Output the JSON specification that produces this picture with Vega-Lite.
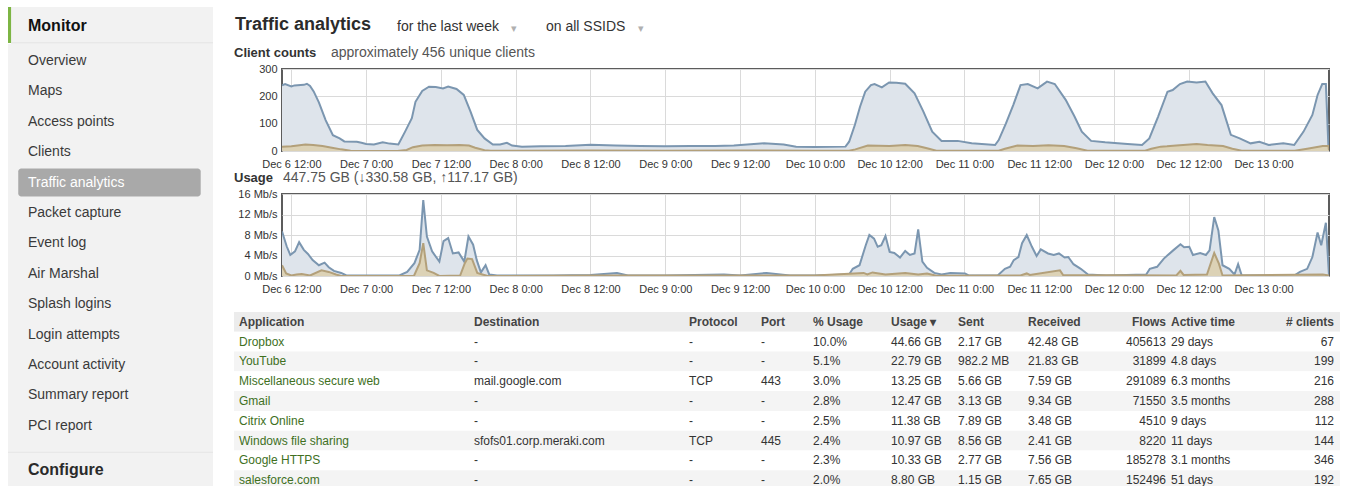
{
  "$schema": "https://vega.github.io/schema/vega-lite/v6.json",
  "background": "white",
  "padding": {"left": 7, "top": 7, "right": 0, "bottom": 0},
  "config": {
    "font": "Liberation Sans",
    "view": {"stroke": null},
    "axis": {"labelFont": "Liberation Sans", "labelFontSize": 11, "labelColor": "#333333", "domain": false, "ticks": false, "gridColor": "#dadada", "labelFlush": false, "labelOverlap": false, "title": null}
  },
  "datasets": {
    "menu": [
      {"item": "Overview"}, {"item": "Maps"}, {"item": "Access points"}, {"item": "Clients"}, {"item": "Traffic analytics"}, {"item": "Packet capture"}, {"item": "Event log"}, {"item": "Air Marshal"}, {"item": "Splash logins"}, {"item": "Login attempts"}, {"item": "Account activity"}, {"item": "Summary report"}, {"item": "PCI report"}
    ],
    "cAll": [
      {"t": "2012-12-06T10:30", "v": 240}, {"t": "2012-12-06T11:00", "v": 245}, {"t": "2012-12-06T12:00", "v": 236}, {"t": "2012-12-06T12:30", "v": 240},
      {"t": "2012-12-06T14:00", "v": 242}, {"t": "2012-12-06T14:30", "v": 246}, {"t": "2012-12-06T15:00", "v": 238}, {"t": "2012-12-06T15:35", "v": 218},
      {"t": "2012-12-06T16:25", "v": 178}, {"t": "2012-12-06T17:30", "v": 113}, {"t": "2012-12-06T18:40", "v": 58}, {"t": "2012-12-06T19:45", "v": 46},
      {"t": "2012-12-06T20:30", "v": 35}, {"t": "2012-12-06T22:30", "v": 34}, {"t": "2012-12-06T23:15", "v": 30}, {"t": "2012-12-07T00:00", "v": 26},
      {"t": "2012-12-07T01:15", "v": 24}, {"t": "2012-12-07T02:40", "v": 32}, {"t": "2012-12-07T03:45", "v": 27}, {"t": "2012-12-07T05:10", "v": 24},
      {"t": "2012-12-07T06:15", "v": 71}, {"t": "2012-12-07T07:20", "v": 120}, {"t": "2012-12-07T07:55", "v": 180}, {"t": "2012-12-07T09:00", "v": 220},
      {"t": "2012-12-07T10:05", "v": 235}, {"t": "2012-12-07T11:10", "v": 234}, {"t": "2012-12-07T12:20", "v": 229}, {"t": "2012-12-07T13:10", "v": 236},
      {"t": "2012-12-07T14:30", "v": 227}, {"t": "2012-12-07T15:40", "v": 205}, {"t": "2012-12-07T16:45", "v": 144}, {"t": "2012-12-07T17:50", "v": 77},
      {"t": "2012-12-07T19:00", "v": 46}, {"t": "2012-12-07T20:20", "v": 24}, {"t": "2012-12-07T21:30", "v": 24}, {"t": "2012-12-07T22:35", "v": 30},
      {"t": "2012-12-07T23:25", "v": 20}, {"t": "2012-12-08T01:00", "v": 16}, {"t": "2012-12-08T04:00", "v": 17}, {"t": "2012-12-08T08:00", "v": 18},
      {"t": "2012-12-08T12:00", "v": 23}, {"t": "2012-12-08T16:00", "v": 20}, {"t": "2012-12-08T20:00", "v": 18}, {"t": "2012-12-09T00:00", "v": 17},
      {"t": "2012-12-09T04:00", "v": 18}, {"t": "2012-12-09T08:00", "v": 18}, {"t": "2012-12-09T11:00", "v": 20}, {"t": "2012-12-09T15:50", "v": 28},
      {"t": "2012-12-09T19:00", "v": 24}, {"t": "2012-12-09T21:00", "v": 16}, {"t": "2012-12-10T00:00", "v": 15}, {"t": "2012-12-10T04:55", "v": 16},
      {"t": "2012-12-10T05:30", "v": 34}, {"t": "2012-12-10T06:25", "v": 95}, {"t": "2012-12-10T07:15", "v": 162}, {"t": "2012-12-10T08:05", "v": 217},
      {"t": "2012-12-10T09:00", "v": 241}, {"t": "2012-12-10T09:35", "v": 245}, {"t": "2012-12-10T10:45", "v": 233}, {"t": "2012-12-10T11:55", "v": 251},
      {"t": "2012-12-10T13:05", "v": 250}, {"t": "2012-12-10T14:30", "v": 246}, {"t": "2012-12-10T16:00", "v": 211}, {"t": "2012-12-10T17:25", "v": 144},
      {"t": "2012-12-10T18:50", "v": 71}, {"t": "2012-12-10T20:20", "v": 37}, {"t": "2012-12-10T22:55", "v": 37}, {"t": "2012-12-11T01:10", "v": 28},
      {"t": "2012-12-11T04:55", "v": 22}, {"t": "2012-12-11T05:30", "v": 40}, {"t": "2012-12-11T06:40", "v": 101}, {"t": "2012-12-11T07:50", "v": 168},
      {"t": "2012-12-11T09:00", "v": 241}, {"t": "2012-12-11T10:10", "v": 245}, {"t": "2012-12-11T11:45", "v": 229}, {"t": "2012-12-11T13:15", "v": 254},
      {"t": "2012-12-11T14:30", "v": 245}, {"t": "2012-12-11T16:15", "v": 187}, {"t": "2012-12-11T17:40", "v": 126}, {"t": "2012-12-11T18:50", "v": 71},
      {"t": "2012-12-11T20:20", "v": 37}, {"t": "2012-12-11T22:35", "v": 32}, {"t": "2012-12-12T02:10", "v": 26}, {"t": "2012-12-12T04:30", "v": 22},
      {"t": "2012-12-12T05:40", "v": 46}, {"t": "2012-12-12T07:05", "v": 126}, {"t": "2012-12-12T08:35", "v": 217}, {"t": "2012-12-12T09:25", "v": 223},
      {"t": "2012-12-12T10:35", "v": 245}, {"t": "2012-12-12T11:45", "v": 254}, {"t": "2012-12-12T13:15", "v": 251}, {"t": "2012-12-12T14:40", "v": 254},
      {"t": "2012-12-12T15:50", "v": 211}, {"t": "2012-12-12T17:15", "v": 168}, {"t": "2012-12-12T18:45", "v": 59}, {"t": "2012-12-12T20:10", "v": 46},
      {"t": "2012-12-12T21:55", "v": 28}, {"t": "2012-12-12T23:20", "v": 34}, {"t": "2012-12-13T00:50", "v": 22}, {"t": "2012-12-13T03:10", "v": 28},
      {"t": "2012-12-13T04:55", "v": 22}, {"t": "2012-12-13T06:25", "v": 71}, {"t": "2012-12-13T07:50", "v": 132}, {"t": "2012-12-13T08:40", "v": 205},
      {"t": "2012-12-13T09:25", "v": 245}, {"t": "2012-12-13T10:00", "v": 245}, {"t": "2012-12-13T10:25", "v": 10}, {"t": "2012-12-13T10:30", "v": 5}
    ],
    "cOther": [
      {"t": "2012-12-06T10:30", "v": 16}, {"t": "2012-12-06T12:00", "v": 17}, {"t": "2012-12-06T13:00", "v": 20}, {"t": "2012-12-06T14:15", "v": 24},
      {"t": "2012-12-06T15:30", "v": 22}, {"t": "2012-12-06T17:00", "v": 18}, {"t": "2012-12-06T18:30", "v": 12}, {"t": "2012-12-06T20:00", "v": 6},
      {"t": "2012-12-06T21:30", "v": 1}, {"t": "2012-12-07T00:00", "v": 0}, {"t": "2012-12-07T05:00", "v": 0}, {"t": "2012-12-07T06:30", "v": 4},
      {"t": "2012-12-07T07:30", "v": 14}, {"t": "2012-12-07T09:00", "v": 20}, {"t": "2012-12-07T11:00", "v": 22}, {"t": "2012-12-07T13:00", "v": 21},
      {"t": "2012-12-07T15:00", "v": 22}, {"t": "2012-12-07T16:30", "v": 20}, {"t": "2012-12-07T17:30", "v": 12}, {"t": "2012-12-07T19:00", "v": 3},
      {"t": "2012-12-07T20:00", "v": 1}, {"t": "2012-12-08T00:00", "v": 1}, {"t": "2012-12-08T12:00", "v": 2}, {"t": "2012-12-09T00:00", "v": 1},
      {"t": "2012-12-09T12:00", "v": 2}, {"t": "2012-12-10T00:00", "v": 1}, {"t": "2012-12-10T05:30", "v": 1}, {"t": "2012-12-10T06:30", "v": 6},
      {"t": "2012-12-10T08:30", "v": 20}, {"t": "2012-12-10T12:00", "v": 18}, {"t": "2012-12-10T14:30", "v": 22}, {"t": "2012-12-10T16:30", "v": 18},
      {"t": "2012-12-10T18:00", "v": 10}, {"t": "2012-12-10T19:30", "v": 1}, {"t": "2012-12-11T05:30", "v": 1}, {"t": "2012-12-11T06:30", "v": 8},
      {"t": "2012-12-11T08:30", "v": 20}, {"t": "2012-12-11T11:00", "v": 18}, {"t": "2012-12-11T13:30", "v": 21}, {"t": "2012-12-11T16:00", "v": 18},
      {"t": "2012-12-11T18:00", "v": 10}, {"t": "2012-12-11T19:45", "v": 1}, {"t": "2012-12-12T05:00", "v": 1}, {"t": "2012-12-12T06:00", "v": 8},
      {"t": "2012-12-12T07:30", "v": 16}, {"t": "2012-12-12T08:30", "v": 17}, {"t": "2012-12-12T10:00", "v": 20}, {"t": "2012-12-12T13:15", "v": 26},
      {"t": "2012-12-12T15:00", "v": 22}, {"t": "2012-12-12T17:30", "v": 18}, {"t": "2012-12-12T19:00", "v": 8}, {"t": "2012-12-12T20:30", "v": 1},
      {"t": "2012-12-13T05:00", "v": 1}, {"t": "2012-12-13T07:00", "v": 8}, {"t": "2012-12-13T09:30", "v": 18}, {"t": "2012-12-13T10:25", "v": 18},
      {"t": "2012-12-13T10:30", "v": 3}
    ],
    "uAll": [
      {"t": "2012-12-06T10:30", "v": 8.7}, {"t": "2012-12-06T10:50", "v": 7.4}, {"t": "2012-12-06T11:15", "v": 5.8}, {"t": "2012-12-06T11:50", "v": 4.1},
      {"t": "2012-12-06T12:35", "v": 4.8}, {"t": "2012-12-06T13:15", "v": 6.6}, {"t": "2012-12-06T14:00", "v": 5.1}, {"t": "2012-12-06T14:40", "v": 4.3},
      {"t": "2012-12-06T15:25", "v": 3.1}, {"t": "2012-12-06T16:25", "v": 2.1}, {"t": "2012-12-06T17:20", "v": 2.6}, {"t": "2012-12-06T18:00", "v": 1.7},
      {"t": "2012-12-06T18:50", "v": 1.0}, {"t": "2012-12-06T20:00", "v": 0.6}, {"t": "2012-12-06T20:50", "v": 0.1}, {"t": "2012-12-07T05:20", "v": 0.1},
      {"t": "2012-12-07T06:35", "v": 0.8}, {"t": "2012-12-07T07:45", "v": 2.5}, {"t": "2012-12-07T08:35", "v": 5.1}, {"t": "2012-12-07T09:10", "v": 14.8},
      {"t": "2012-12-07T09:45", "v": 7.7}, {"t": "2012-12-07T10:35", "v": 4.8}, {"t": "2012-12-07T11:45", "v": 2.8}, {"t": "2012-12-07T12:25", "v": 6.8},
      {"t": "2012-12-07T13:10", "v": 7.4}, {"t": "2012-12-07T13:55", "v": 4.4}, {"t": "2012-12-07T14:50", "v": 4.6}, {"t": "2012-12-07T15:45", "v": 2.8},
      {"t": "2012-12-07T16:25", "v": 7.7}, {"t": "2012-12-07T17:10", "v": 6.1}, {"t": "2012-12-07T17:45", "v": 3.1}, {"t": "2012-12-07T18:25", "v": 0.7},
      {"t": "2012-12-07T19:10", "v": 2.1}, {"t": "2012-12-07T19:45", "v": 0.3}, {"t": "2012-12-07T21:00", "v": 0.1}, {"t": "2012-12-08T06:00", "v": 0.1},
      {"t": "2012-12-08T12:00", "v": 0.2}, {"t": "2012-12-08T16:15", "v": 0.6}, {"t": "2012-12-08T18:00", "v": 0.1}, {"t": "2012-12-09T00:00", "v": 0.1},
      {"t": "2012-12-09T09:25", "v": 0.3}, {"t": "2012-12-09T12:00", "v": 0.1}, {"t": "2012-12-09T16:15", "v": 0.6}, {"t": "2012-12-09T20:00", "v": 0.1},
      {"t": "2012-12-10T00:00", "v": 0.1}, {"t": "2012-12-10T05:30", "v": 0.3}, {"t": "2012-12-10T06:05", "v": 1.4}, {"t": "2012-12-10T07:10", "v": 2.1},
      {"t": "2012-12-10T08:10", "v": 6.0}, {"t": "2012-12-10T08:45", "v": 8.0}, {"t": "2012-12-10T09:30", "v": 7.3}, {"t": "2012-12-10T10:05", "v": 5.7},
      {"t": "2012-12-10T10:40", "v": 6.0}, {"t": "2012-12-10T11:20", "v": 7.8}, {"t": "2012-12-10T12:00", "v": 4.7}, {"t": "2012-12-10T12:45", "v": 4.5},
      {"t": "2012-12-10T13:40", "v": 3.6}, {"t": "2012-12-10T14:30", "v": 4.9}, {"t": "2012-12-10T15:15", "v": 4.1}, {"t": "2012-12-10T16:00", "v": 4.4},
      {"t": "2012-12-10T16:35", "v": 9.1}, {"t": "2012-12-10T17:15", "v": 2.8}, {"t": "2012-12-10T18:00", "v": 1.6}, {"t": "2012-12-10T19:10", "v": 0.6},
      {"t": "2012-12-10T20:20", "v": 0.3}, {"t": "2012-12-10T21:45", "v": 0.6}, {"t": "2012-12-11T00:05", "v": 0.5}, {"t": "2012-12-11T00:40", "v": 0.1},
      {"t": "2012-12-11T05:20", "v": 0.1}, {"t": "2012-12-11T06:30", "v": 1.4}, {"t": "2012-12-11T07:20", "v": 1.8}, {"t": "2012-12-11T07:55", "v": 3.1},
      {"t": "2012-12-11T08:40", "v": 3.7}, {"t": "2012-12-11T09:15", "v": 6.4}, {"t": "2012-12-11T10:00", "v": 8.0}, {"t": "2012-12-11T10:50", "v": 5.7},
      {"t": "2012-12-11T11:35", "v": 3.9}, {"t": "2012-12-11T12:15", "v": 5.2}, {"t": "2012-12-11T13:25", "v": 4.4}, {"t": "2012-12-11T14:20", "v": 4.1},
      {"t": "2012-12-11T15:10", "v": 4.4}, {"t": "2012-12-11T16:05", "v": 3.6}, {"t": "2012-12-11T16:40", "v": 3.7}, {"t": "2012-12-11T17:30", "v": 2.3},
      {"t": "2012-12-11T18:40", "v": 1.4}, {"t": "2012-12-11T19:50", "v": 0.3}, {"t": "2012-12-11T22:45", "v": 0.1}, {"t": "2012-12-12T05:10", "v": 0.3},
      {"t": "2012-12-12T05:45", "v": 1.4}, {"t": "2012-12-12T06:55", "v": 1.8}, {"t": "2012-12-12T08:00", "v": 3.4}, {"t": "2012-12-12T09:30", "v": 5.0},
      {"t": "2012-12-12T10:40", "v": 6.2}, {"t": "2012-12-12T11:15", "v": 5.6}, {"t": "2012-12-12T12:05", "v": 5.7}, {"t": "2012-12-12T12:40", "v": 4.1},
      {"t": "2012-12-12T13:50", "v": 4.5}, {"t": "2012-12-12T14:45", "v": 4.1}, {"t": "2012-12-12T15:20", "v": 5.0}, {"t": "2012-12-12T16:05", "v": 11.5},
      {"t": "2012-12-12T16:45", "v": 8.9}, {"t": "2012-12-12T17:25", "v": 2.1}, {"t": "2012-12-12T18:30", "v": 1.4}, {"t": "2012-12-12T19:20", "v": 0.3},
      {"t": "2012-12-12T19:55", "v": 2.3}, {"t": "2012-12-12T20:30", "v": 0.1}, {"t": "2012-12-13T04:55", "v": 0.1}, {"t": "2012-12-13T05:50", "v": 0.8},
      {"t": "2012-12-13T07:00", "v": 1.4}, {"t": "2012-12-13T07:50", "v": 3.7}, {"t": "2012-12-13T08:40", "v": 8.5}, {"t": "2012-12-13T09:15", "v": 6.0},
      {"t": "2012-12-13T10:00", "v": 10.4}, {"t": "2012-12-13T10:30", "v": 0.1}
    ],
    "uUp": [
      {"t": "2012-12-06T10:30", "v": 2.1}, {"t": "2012-12-06T11:10", "v": 0.5}, {"t": "2012-12-06T12:00", "v": 0.1}, {"t": "2012-12-06T12:50", "v": 0.3},
      {"t": "2012-12-06T13:40", "v": 0.4}, {"t": "2012-12-06T15:00", "v": 0.1}, {"t": "2012-12-06T16:50", "v": 1.1}, {"t": "2012-12-06T18:00", "v": 0.8},
      {"t": "2012-12-06T19:10", "v": 0.3}, {"t": "2012-12-06T20:00", "v": 0.0}, {"t": "2012-12-07T07:40", "v": 0.0}, {"t": "2012-12-07T08:35", "v": 2.5},
      {"t": "2012-12-07T09:10", "v": 6.4}, {"t": "2012-12-07T09:45", "v": 1.1}, {"t": "2012-12-07T10:50", "v": 0.6}, {"t": "2012-12-07T11:45", "v": 0.0},
      {"t": "2012-12-07T15:05", "v": 0.1}, {"t": "2012-12-07T15:50", "v": 2.5}, {"t": "2012-12-07T16:15", "v": 3.4}, {"t": "2012-12-07T17:00", "v": 3.3},
      {"t": "2012-12-07T17:50", "v": 0.6}, {"t": "2012-12-07T18:40", "v": 0.3}, {"t": "2012-12-07T19:30", "v": 0.0}, {"t": "2012-12-08T12:00", "v": 0.1},
      {"t": "2012-12-09T12:00", "v": 0.1}, {"t": "2012-12-10T00:00", "v": 0.1}, {"t": "2012-12-10T07:50", "v": 0.6}, {"t": "2012-12-10T08:25", "v": 0.3},
      {"t": "2012-12-10T09:15", "v": 0.7}, {"t": "2012-12-10T11:20", "v": 0.3}, {"t": "2012-12-10T14:30", "v": 0.6}, {"t": "2012-12-10T16:35", "v": 0.3},
      {"t": "2012-12-10T18:00", "v": 0.5}, {"t": "2012-12-10T19:30", "v": 0.05}, {"t": "2012-12-11T09:00", "v": 0.1}, {"t": "2012-12-11T10:00", "v": 0.5},
      {"t": "2012-12-11T10:30", "v": 0.2}, {"t": "2012-12-11T15:20", "v": 1.1}, {"t": "2012-12-11T15:50", "v": 0.2}, {"t": "2012-12-12T10:00", "v": 0.1},
      {"t": "2012-12-12T10:40", "v": 1.0}, {"t": "2012-12-12T11:10", "v": 0.2}, {"t": "2012-12-12T14:55", "v": 0.3}, {"t": "2012-12-12T16:05", "v": 4.5},
      {"t": "2012-12-12T16:50", "v": 2.4}, {"t": "2012-12-12T17:25", "v": 0.1}, {"t": "2012-12-13T09:30", "v": 0.3}, {"t": "2012-12-13T10:30", "v": 0.1}
    ],
    "tbl": [
      {"r": 0, "a": "Application", "d": "Destination", "p": "Protocol", "po": "Port", "pu": "% Usage", "u": "Usage ▾", "s": "Sent", "rc": "Received", "f": "Flows", "at": "Active time", "c": "# clients"},
      {"r": 1, "a": "Dropbox", "d": "-", "p": "-", "po": "-", "pu": "10.0%", "u": "44.66 GB", "s": "2.17 GB", "rc": "42.48 GB", "f": "405613", "at": "29 days", "c": "67"},
      {"r": 2, "a": "YouTube", "d": "-", "p": "-", "po": "-", "pu": "5.1%", "u": "22.79 GB", "s": "982.2 MB", "rc": "21.83 GB", "f": "31899", "at": "4.8 days", "c": "199"},
      {"r": 3, "a": "Miscellaneous secure web", "d": "mail.google.com", "p": "TCP", "po": "443", "pu": "3.0%", "u": "13.25 GB", "s": "5.66 GB", "rc": "7.59 GB", "f": "291089", "at": "6.3 months", "c": "216"},
      {"r": 4, "a": "Gmail", "d": "-", "p": "-", "po": "-", "pu": "2.8%", "u": "12.47 GB", "s": "3.13 GB", "rc": "9.34 GB", "f": "71550", "at": "3.5 months", "c": "288"},
      {"r": 5, "a": "Citrix Online", "d": "-", "p": "-", "po": "-", "pu": "2.5%", "u": "11.38 GB", "s": "7.89 GB", "rc": "3.48 GB", "f": "4510", "at": "9 days", "c": "112"},
      {"r": 6, "a": "Windows file sharing", "d": "sfofs01.corp.meraki.com", "p": "TCP", "po": "445", "pu": "2.4%", "u": "10.97 GB", "s": "8.56 GB", "rc": "2.41 GB", "f": "8220", "at": "11 days", "c": "144"},
      {"r": 7, "a": "Google HTTPS", "d": "-", "p": "-", "po": "-", "pu": "2.3%", "u": "10.33 GB", "s": "2.77 GB", "rc": "7.56 GB", "f": "185278", "at": "3.1 months", "c": "346"},
      {"r": 8, "a": "salesforce.com", "d": "-", "p": "-", "po": "-", "pu": "2.0%", "u": "8.80 GB", "s": "1.15 GB", "rc": "7.65 GB", "f": "152496", "at": "51 days", "c": "192"}
    ]
  },
  "spacing": 19,
  "hconcat": [
    {
      "spacing": 0,
      "vconcat": [
        {
          "width": 205, "height": 36,
          "view": {"fill": "#f2f2f2", "stroke": null},
          "data": {"values": [{"item": "Monitor"}]},
          "encoding": {"x": {"datum": 0, "type": "quantitative", "scale": {"domain": [0, 100]}, "axis": null}},
          "layer": [
            {"mark": {"type": "rect", "color": "#7db544"}, "encoding": {"x2": {"datum": 1.5}, "y": {"datum": 0, "type": "quantitative", "scale": {"domain": [0, 1]}, "axis": null}, "y2": {"datum": 1}}},
            {"mark": {"type": "rule", "color": "#dedede"}, "encoding": {"x": {"datum": 1.5, "type": "quantitative"}, "x2": {"datum": 100}, "y": {"datum": 0, "type": "quantitative"}}},
            {"mark": {"type": "text", "align": "left", "baseline": "middle", "dx": 20, "dy": 1, "fontSize": 16, "fontWeight": "bold", "color": "#111111"}, "encoding": {"text": {"field": "item"}}}
          ]
        },
        {
          "width": 205, "height": 407,
          "view": {"fill": "#f2f2f2", "stroke": null},
          "data": {"name": "menu"},
          "encoding": {
            "y": {"field": "item", "type": "nominal", "sort": null, "scale": {"domain": ["Overview", "Maps", "Access points", "Clients", "Traffic analytics", "Packet capture", "Event log", "Air Marshal", "Splash logins", "Login attempts", "Account activity", "Summary report", "PCI report"], "paddingInner": 0, "paddingOuter": 0.194, "align": 0.153}, "axis": null},
            "x": {"datum": 0, "type": "quantitative", "scale": {"domain": [0, 100]}, "axis": null}
          },
          "layer": [
            {"transform": [{"filter": "datum.item === 'Traffic analytics'"}], "mark": {"type": "rect", "color": "#a9a9a9", "cornerRadius": 3, "height": {"band": 0.92}}, "encoding": {"x": {"datum": 5, "type": "quantitative"}, "x2": {"datum": 94}}},
            {"mark": {"type": "text", "align": "left", "baseline": "middle", "dx": 20, "fontSize": 14}, "encoding": {"text": {"field": "item"}, "color": {"condition": {"test": "datum.item === 'Traffic analytics'", "value": "#ffffff"}, "value": "#3a3a3a"}}}
          ]
        },
        {
          "width": 205, "height": 36,
          "view": {"fill": "#f2f2f2", "stroke": null},
          "data": {"values": [{"item": "Configure"}]},
          "encoding": {"x": {"datum": 0, "type": "quantitative", "scale": {"domain": [0, 100]}, "axis": null}},
          "layer": [
            {"mark": {"type": "rule", "color": "#dedede"}, "encoding": {"x2": {"datum": 100}, "y": {"datum": 1, "type": "quantitative", "scale": {"domain": [0, 1]}, "axis": null}}},
            {"mark": {"type": "text", "align": "left", "baseline": "middle", "dx": 20, "fontSize": 16, "fontWeight": "bold", "color": "#2a2a2a"}, "encoding": {"text": {"field": "item"}}}
          ]
        }
      ]
    },
    {
      "spacing": 17,
      "vconcat": [
        {
          "spacing": 0,
          "vconcat": [
            {
              "width": 1047, "height": 38,
              "data": {"values": [{}]},
              "encoding": {"x": {"datum": 0, "type": "quantitative", "scale": {"domain": [0, 1]}, "axis": null}},
              "layer": [
                {"mark": {"type": "text", "align": "left", "baseline": "alphabetic", "dx": -47, "dy": 4, "fontSize": 18, "fontWeight": "bold", "color": "#2b2b2b", "text": "Traffic analytics"}},
                {"mark": {"type": "text", "align": "left", "baseline": "alphabetic", "dx": 115, "dy": 5, "fontSize": 14, "color": "#333333", "text": "for the last week"}},
                {"mark": {"type": "text", "align": "left", "baseline": "middle", "dx": 229, "dy": 3, "fontSize": 11, "color": "#b0b0b0", "text": "▾"}},
                {"mark": {"type": "text", "align": "left", "baseline": "alphabetic", "dx": 264, "dy": 5, "fontSize": 14, "color": "#333333", "text": "on all SSIDS"}},
                {"mark": {"type": "text", "align": "left", "baseline": "middle", "dx": 356, "dy": 3, "fontSize": 11, "color": "#b0b0b0", "text": "▾"}}
              ]
            },
            {
              "width": 1047, "height": 82,
              "view": {"stroke": "#5c5c5c", "strokeWidth": 2},
              "layer": [
                {
                  "data": {"name": "cAll"},
                  "mark": {"type": "area", "color": "#dee4eb", "opacity": 1, "clip": true, "line": {"color": "#7b96b0", "strokeWidth": 2}},
                  "encoding": {
                    "x": {"field": "t", "type": "temporal",
                      "scale": {"domain": [{"year": 2012, "month": 12, "date": 6, "hours": 10, "minutes": 30}, {"year": 2012, "month": 12, "date": 13, "hours": 10, "minutes": 30}]},
                      "axis": {"grid": true, "labelPadding": 7, "labelOverlap": false, "labelFlush": false, "tickCount": 30, "labelExpr": "timeFormat(datum.value, '%b %-d %-H:%M')",
                        "values": [
                          {"year": 2012, "month": 12, "date": 6, "hours": 12}, {"year": 2012, "month": 12, "date": 7, "hours": 0}, {"year": 2012, "month": 12, "date": 7, "hours": 12},
                          {"year": 2012, "month": 12, "date": 8, "hours": 0}, {"year": 2012, "month": 12, "date": 8, "hours": 12}, {"year": 2012, "month": 12, "date": 9, "hours": 0},
                          {"year": 2012, "month": 12, "date": 9, "hours": 12}, {"year": 2012, "month": 12, "date": 10, "hours": 0}, {"year": 2012, "month": 12, "date": 10, "hours": 12},
                          {"year": 2012, "month": 12, "date": 11, "hours": 0}, {"year": 2012, "month": 12, "date": 11, "hours": 12}, {"year": 2012, "month": 12, "date": 12, "hours": 0},
                          {"year": 2012, "month": 12, "date": 12, "hours": 12}, {"year": 2012, "month": 12, "date": 13, "hours": 0}
                        ]}},
                    "y": {"field": "v", "type": "quantitative", "scale": {"domain": [0, 300], "nice": false}, "axis": {"grid": true, "labelPadding": 5, "labelOverlap": false, "labelFlush": false, "tickCount": 10, "values": [0, 100, 200, 300]}}
                  }
                },
                {
                  "data": {"name": "cOther"},
                  "mark": {"type": "area", "color": "#dcd2b6", "opacity": 1, "clip": true, "line": {"color": "#b3a07a", "strokeWidth": 2}},
                  "encoding": {"x": {"field": "t", "type": "temporal"}, "y": {"field": "v", "type": "quantitative"}}
                },
                {
                  "data": {"values": [{}]},
                  "mark": {"type": "text", "align": "left", "baseline": "alphabetic", "dx": -48, "dy": -12, "fontSize": 13, "fontWeight": "bold", "color": "#333333", "text": "Client counts"},
                  "encoding": {"x": {"datum": {"year": 2012, "month": 12, "date": 6, "hours": 10, "minutes": 30}, "type": "temporal"}, "y": {"datum": 300, "type": "quantitative"}}
                },
                {
                  "data": {"values": [{}]},
                  "mark": {"type": "text", "align": "left", "baseline": "alphabetic", "dx": 49, "dy": -12, "fontSize": 14, "color": "#555555", "text": "approximately 456 unique clients"},
                  "encoding": {"x": {"datum": {"year": 2012, "month": 12, "date": 6, "hours": 10, "minutes": 30}, "type": "temporal"}, "y": {"datum": 300, "type": "quantitative"}}
                }
              ]
            },
            {
              "width": 1047, "height": 82,
              "view": {"stroke": "#5c5c5c", "strokeWidth": 2},
              "layer": [
                {
                  "data": {"name": "uAll"},
                  "mark": {"type": "area", "color": "#dee4eb", "opacity": 1, "clip": true, "line": {"color": "#7b96b0", "strokeWidth": 2}},
                  "encoding": {
                    "x": {"field": "t", "type": "temporal",
                      "scale": {"domain": [{"year": 2012, "month": 12, "date": 6, "hours": 10, "minutes": 30}, {"year": 2012, "month": 12, "date": 13, "hours": 10, "minutes": 30}]},
                      "axis": {"grid": true, "labelPadding": 7, "labelOverlap": false, "labelFlush": false, "tickCount": 30, "labelExpr": "timeFormat(datum.value, '%b %-d %-H:%M')",
                        "values": [
                          {"year": 2012, "month": 12, "date": 6, "hours": 12}, {"year": 2012, "month": 12, "date": 7, "hours": 0}, {"year": 2012, "month": 12, "date": 7, "hours": 12},
                          {"year": 2012, "month": 12, "date": 8, "hours": 0}, {"year": 2012, "month": 12, "date": 8, "hours": 12}, {"year": 2012, "month": 12, "date": 9, "hours": 0},
                          {"year": 2012, "month": 12, "date": 9, "hours": 12}, {"year": 2012, "month": 12, "date": 10, "hours": 0}, {"year": 2012, "month": 12, "date": 10, "hours": 12},
                          {"year": 2012, "month": 12, "date": 11, "hours": 0}, {"year": 2012, "month": 12, "date": 11, "hours": 12}, {"year": 2012, "month": 12, "date": 12, "hours": 0},
                          {"year": 2012, "month": 12, "date": 12, "hours": 12}, {"year": 2012, "month": 12, "date": 13, "hours": 0}
                        ]}},
                    "y": {"field": "v", "type": "quantitative", "scale": {"domain": [0, 16], "nice": false}, "axis": {"grid": true, "labelPadding": 5, "labelOverlap": false, "labelFlush": false, "tickCount": 10, "values": [0, 4, 8, 12, 16], "labelExpr": "datum.value + ' Mb/s'"}}
                  }
                },
                {
                  "data": {"name": "uUp"},
                  "mark": {"type": "area", "color": "#dcd2b6", "opacity": 1, "clip": true, "line": {"color": "#b3a07a", "strokeWidth": 2}},
                  "encoding": {"x": {"field": "t", "type": "temporal"}, "y": {"field": "v", "type": "quantitative"}}
                },
                {
                  "data": {"values": [{}]},
                  "mark": {"type": "text", "align": "left", "baseline": "alphabetic", "dx": -48, "dy": -12, "fontSize": 13, "fontWeight": "bold", "color": "#333333", "text": "Usage"},
                  "encoding": {"x": {"datum": {"year": 2012, "month": 12, "date": 6, "hours": 10, "minutes": 30}, "type": "temporal"}, "y": {"datum": 16, "type": "quantitative"}}
                },
                {
                  "data": {"values": [{}]},
                  "mark": {"type": "text", "align": "left", "baseline": "alphabetic", "dx": 1, "dy": -12, "fontSize": 14, "color": "#555555", "text": "447.75 GB (↓330.58 GB, ↑117.17 GB)"},
                  "encoding": {"x": {"datum": {"year": 2012, "month": 12, "date": 6, "hours": 10, "minutes": 30}, "type": "temporal"}, "y": {"datum": 16, "type": "quantitative"}}
                }
              ]
            }
          ]
        },
        {
          "spacing": 0,
          "hconcat": [
            {"width": 186, "height": 178, "data": {"name": "tbl"},
             "encoding": {"y": {"field": "r", "type": "ordinal", "scale": {"domain": [0, 1, 2, 3, 4, 5, 6, 7, 8], "paddingInner": 0, "paddingOuter": 0}, "axis": null}, "x": {"datum": 0, "type": "quantitative", "scale": {"domain": [0, 1]}, "axis": null}},
             "layer": [
               {"mark": "rect", "encoding": {"x": {"datum": -0.2581, "type": "quantitative"}, "x2": {"datum": 1}, "color": {"condition": [{"test": "datum.r === 0", "value": "#ececec"}, {"test": "datum.r % 2 === 0", "value": "#f4f4f4"}], "value": "#ffffff"}}},
               {"transform": [{"filter": "datum.r === 0"}], "mark": {"type": "text", "align": "left", "dx": -43, "fontSize": 12, "fontWeight": "bold", "color": "#444444"}, "encoding": {"text": {"field": "a"}}},
               {"transform": [{"filter": "datum.r > 0"}], "mark": {"type": "text", "align": "left", "dx": -43, "fontSize": 12, "color": "#40701e"}, "encoding": {"text": {"field": "a"}}}
             ]},
            {"width": 215, "height": 178, "data": {"name": "tbl"},
             "encoding": {"y": {"field": "r", "type": "ordinal", "scale": {"domain": [0, 1, 2, 3, 4, 5, 6, 7, 8], "paddingInner": 0, "paddingOuter": 0}, "axis": null}, "x": {"datum": 0, "type": "quantitative", "scale": {"domain": [0, 1]}, "axis": null}},
             "layer": [
               {"mark": "rect", "encoding": {"x2": {"datum": 1}, "color": {"condition": [{"test": "datum.r === 0", "value": "#ececec"}, {"test": "datum.r % 2 === 0", "value": "#f4f4f4"}], "value": "#ffffff"}}},
               {"transform": [{"filter": "datum.r === 0"}], "mark": {"type": "text", "align": "left", "dx": 6, "fontSize": 12, "fontWeight": "bold", "color": "#444444"}, "encoding": {"text": {"field": "d"}}},
               {"transform": [{"filter": "datum.r > 0"}], "mark": {"type": "text", "align": "left", "dx": 6, "fontSize": 12, "color": "#333333"}, "encoding": {"text": {"field": "d"}}}
             ]},
            {"width": 72, "height": 178, "data": {"name": "tbl"},
             "encoding": {"y": {"field": "r", "type": "ordinal", "scale": {"domain": [0, 1, 2, 3, 4, 5, 6, 7, 8], "paddingInner": 0, "paddingOuter": 0}, "axis": null}, "x": {"datum": 0, "type": "quantitative", "scale": {"domain": [0, 1]}, "axis": null}},
             "layer": [
               {"mark": "rect", "encoding": {"x2": {"datum": 1}, "color": {"condition": [{"test": "datum.r === 0", "value": "#ececec"}, {"test": "datum.r % 2 === 0", "value": "#f4f4f4"}], "value": "#ffffff"}}},
               {"transform": [{"filter": "datum.r === 0"}], "mark": {"type": "text", "align": "left", "dx": 6, "fontSize": 12, "fontWeight": "bold", "color": "#444444"}, "encoding": {"text": {"field": "p"}}},
               {"transform": [{"filter": "datum.r > 0"}], "mark": {"type": "text", "align": "left", "dx": 6, "fontSize": 12, "color": "#333333"}, "encoding": {"text": {"field": "p"}}}
             ]},
            {"width": 52, "height": 178, "data": {"name": "tbl"},
             "encoding": {"y": {"field": "r", "type": "ordinal", "scale": {"domain": [0, 1, 2, 3, 4, 5, 6, 7, 8], "paddingInner": 0, "paddingOuter": 0}, "axis": null}, "x": {"datum": 0, "type": "quantitative", "scale": {"domain": [0, 1]}, "axis": null}},
             "layer": [
               {"mark": "rect", "encoding": {"x2": {"datum": 1}, "color": {"condition": [{"test": "datum.r === 0", "value": "#ececec"}, {"test": "datum.r % 2 === 0", "value": "#f4f4f4"}], "value": "#ffffff"}}},
               {"transform": [{"filter": "datum.r === 0"}], "mark": {"type": "text", "align": "left", "dx": 6, "fontSize": 12, "fontWeight": "bold", "color": "#444444"}, "encoding": {"text": {"field": "po"}}},
               {"transform": [{"filter": "datum.r > 0"}], "mark": {"type": "text", "align": "left", "dx": 6, "fontSize": 12, "color": "#333333"}, "encoding": {"text": {"field": "po"}}}
             ]},
            {"width": 78, "height": 178, "data": {"name": "tbl"},
             "encoding": {"y": {"field": "r", "type": "ordinal", "scale": {"domain": [0, 1, 2, 3, 4, 5, 6, 7, 8], "paddingInner": 0, "paddingOuter": 0}, "axis": null}, "x": {"datum": 0, "type": "quantitative", "scale": {"domain": [0, 1]}, "axis": null}},
             "layer": [
               {"mark": "rect", "encoding": {"x2": {"datum": 1}, "color": {"condition": [{"test": "datum.r === 0", "value": "#ececec"}, {"test": "datum.r % 2 === 0", "value": "#f4f4f4"}], "value": "#ffffff"}}},
               {"transform": [{"filter": "datum.r === 0"}], "mark": {"type": "text", "align": "left", "dx": 6, "fontSize": 12, "fontWeight": "bold", "color": "#444444"}, "encoding": {"text": {"field": "pu"}}},
               {"transform": [{"filter": "datum.r > 0"}], "mark": {"type": "text", "align": "left", "dx": 6, "fontSize": 12, "color": "#333333"}, "encoding": {"text": {"field": "pu"}}}
             ]},
            {"width": 67, "height": 178, "data": {"name": "tbl"},
             "encoding": {"y": {"field": "r", "type": "ordinal", "scale": {"domain": [0, 1, 2, 3, 4, 5, 6, 7, 8], "paddingInner": 0, "paddingOuter": 0}, "axis": null}, "x": {"datum": 0, "type": "quantitative", "scale": {"domain": [0, 1]}, "axis": null}},
             "layer": [
               {"mark": "rect", "encoding": {"x2": {"datum": 1}, "color": {"condition": [{"test": "datum.r === 0", "value": "#ececec"}, {"test": "datum.r % 2 === 0", "value": "#f4f4f4"}], "value": "#ffffff"}}},
               {"transform": [{"filter": "datum.r === 0"}], "mark": {"type": "text", "align": "left", "dx": 6, "fontSize": 12, "fontWeight": "bold", "color": "#444444"}, "encoding": {"text": {"field": "u"}}},
               {"transform": [{"filter": "datum.r > 0"}], "mark": {"type": "text", "align": "left", "dx": 6, "fontSize": 12, "color": "#333333"}, "encoding": {"text": {"field": "u"}}}
             ]},
            {"width": 70, "height": 178, "data": {"name": "tbl"},
             "encoding": {"y": {"field": "r", "type": "ordinal", "scale": {"domain": [0, 1, 2, 3, 4, 5, 6, 7, 8], "paddingInner": 0, "paddingOuter": 0}, "axis": null}, "x": {"datum": 0, "type": "quantitative", "scale": {"domain": [0, 1]}, "axis": null}},
             "layer": [
               {"mark": "rect", "encoding": {"x2": {"datum": 1}, "color": {"condition": [{"test": "datum.r === 0", "value": "#ececec"}, {"test": "datum.r % 2 === 0", "value": "#f4f4f4"}], "value": "#ffffff"}}},
               {"transform": [{"filter": "datum.r === 0"}], "mark": {"type": "text", "align": "left", "dx": 6, "fontSize": 12, "fontWeight": "bold", "color": "#444444"}, "encoding": {"text": {"field": "s"}}},
               {"transform": [{"filter": "datum.r > 0"}], "mark": {"type": "text", "align": "left", "dx": 6, "fontSize": 12, "color": "#333333"}, "encoding": {"text": {"field": "s"}}}
             ]},
            {"width": 79, "height": 178, "data": {"name": "tbl"},
             "encoding": {"y": {"field": "r", "type": "ordinal", "scale": {"domain": [0, 1, 2, 3, 4, 5, 6, 7, 8], "paddingInner": 0, "paddingOuter": 0}, "axis": null}, "x": {"datum": 0, "type": "quantitative", "scale": {"domain": [0, 1]}, "axis": null}},
             "layer": [
               {"mark": "rect", "encoding": {"x2": {"datum": 1}, "color": {"condition": [{"test": "datum.r === 0", "value": "#ececec"}, {"test": "datum.r % 2 === 0", "value": "#f4f4f4"}], "value": "#ffffff"}}},
               {"transform": [{"filter": "datum.r === 0"}], "mark": {"type": "text", "align": "left", "dx": 6, "fontSize": 12, "fontWeight": "bold", "color": "#444444"}, "encoding": {"text": {"field": "rc"}}},
               {"transform": [{"filter": "datum.r > 0"}], "mark": {"type": "text", "align": "left", "dx": 6, "fontSize": 12, "color": "#333333"}, "encoding": {"text": {"field": "rc"}}}
             ]},
            {"width": 68, "height": 178, "data": {"name": "tbl"},
             "encoding": {"y": {"field": "r", "type": "ordinal", "scale": {"domain": [0, 1, 2, 3, 4, 5, 6, 7, 8], "paddingInner": 0, "paddingOuter": 0}, "axis": null}, "x": {"datum": 1, "type": "quantitative", "scale": {"domain": [0, 1]}, "axis": null}},
             "layer": [
               {"mark": "rect", "encoding": {"x": {"datum": 0, "type": "quantitative"}, "x2": {"datum": 1}, "color": {"condition": [{"test": "datum.r === 0", "value": "#ececec"}, {"test": "datum.r % 2 === 0", "value": "#f4f4f4"}], "value": "#ffffff"}}},
               {"transform": [{"filter": "datum.r === 0"}], "mark": {"type": "text", "align": "right", "dx": -3, "fontSize": 12, "fontWeight": "bold", "color": "#444444"}, "encoding": {"text": {"field": "f"}}},
               {"transform": [{"filter": "datum.r > 0"}], "mark": {"type": "text", "align": "right", "dx": -3, "fontSize": 12, "color": "#333333"}, "encoding": {"text": {"field": "f"}}}
             ]},
            {"width": 72, "height": 178, "data": {"name": "tbl"},
             "encoding": {"y": {"field": "r", "type": "ordinal", "scale": {"domain": [0, 1, 2, 3, 4, 5, 6, 7, 8], "paddingInner": 0, "paddingOuter": 0}, "axis": null}, "x": {"datum": 0, "type": "quantitative", "scale": {"domain": [0, 1]}, "axis": null}},
             "layer": [
               {"mark": "rect", "encoding": {"x2": {"datum": 1}, "color": {"condition": [{"test": "datum.r === 0", "value": "#ececec"}, {"test": "datum.r % 2 === 0", "value": "#f4f4f4"}], "value": "#ffffff"}}},
               {"transform": [{"filter": "datum.r === 0"}], "mark": {"type": "text", "align": "left", "dx": 2, "fontSize": 12, "fontWeight": "bold", "color": "#444444"}, "encoding": {"text": {"field": "at"}}},
               {"transform": [{"filter": "datum.r > 0"}], "mark": {"type": "text", "align": "left", "dx": 2, "fontSize": 12, "color": "#333333"}, "encoding": {"text": {"field": "at"}}}
             ]},
            {"width": 99, "height": 178, "data": {"name": "tbl"},
             "encoding": {"y": {"field": "r", "type": "ordinal", "scale": {"domain": [0, 1, 2, 3, 4, 5, 6, 7, 8], "paddingInner": 0, "paddingOuter": 0}, "axis": null}, "x": {"datum": 1, "type": "quantitative", "scale": {"domain": [0, 1]}, "axis": null}},
             "layer": [
               {"mark": "rect", "encoding": {"x": {"datum": 0, "type": "quantitative"}, "x2": {"datum": 1}, "color": {"condition": [{"test": "datum.r === 0", "value": "#ececec"}, {"test": "datum.r % 2 === 0", "value": "#f4f4f4"}], "value": "#ffffff"}}},
               {"transform": [{"filter": "datum.r === 0"}], "mark": {"type": "text", "align": "right", "dx": -6, "fontSize": 12, "fontWeight": "bold", "color": "#444444"}, "encoding": {"text": {"field": "c"}}},
               {"transform": [{"filter": "datum.r > 0"}], "mark": {"type": "text", "align": "right", "dx": -6, "fontSize": 12, "color": "#333333"}, "encoding": {"text": {"field": "c"}}}
             ]}
          ]
        }
      ]
    }
  ]
}
